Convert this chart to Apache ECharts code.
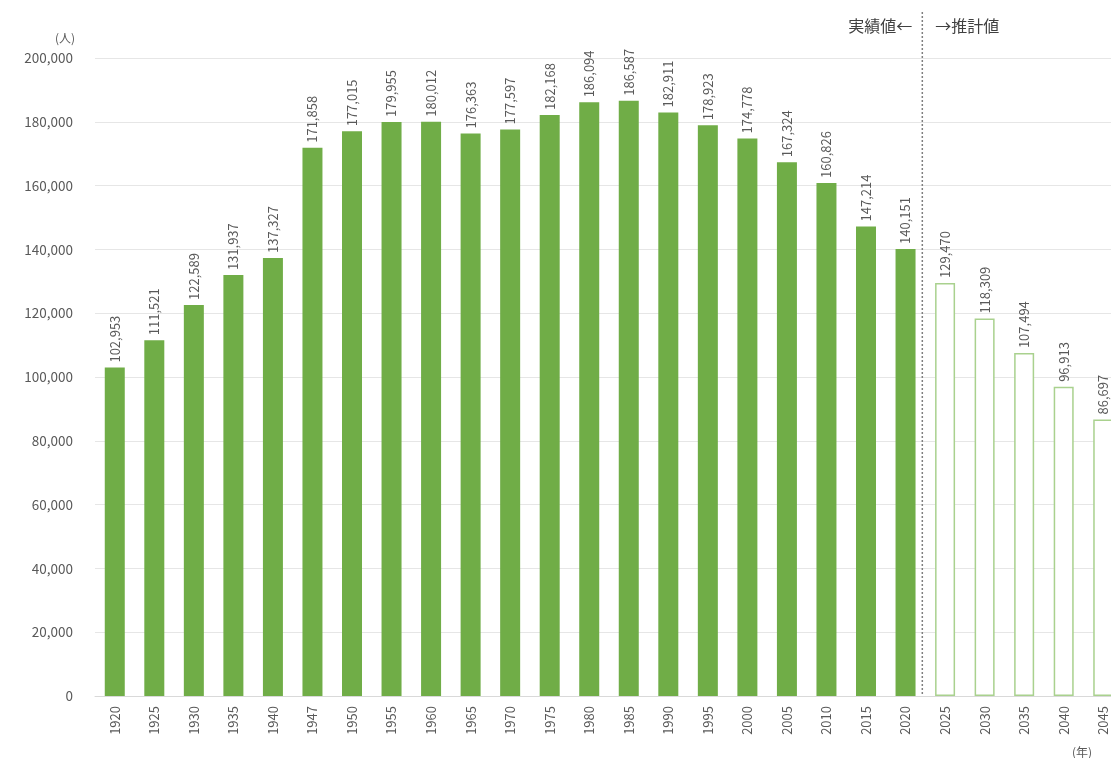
<!DOCTYPE html>
<html><head><meta charset="utf-8">
<script src="https://cdn.jsdelivr.net/npm/echarts@6/dist/echarts.min.js"></script>
<style>html,body{margin:0;padding:0;background:#fff;overflow:hidden;width:1111px;height:758px}#c{width:1123px;height:758px}</style>
</head><body><div id="c"></div>
<script>
const categories = ['1920','1925','1930','1935','1940','1947','1950','1955','1960','1965','1970','1975','1980','1985','1990','1995','2000','2005','2010','2015','2020','2025','2030','2035','2040','2045'];
const actualValues = [102953,111521,122589,131937,137327,171858,177015,179955,180012,176363,177597,182168,186094,186587,182911,178923,174778,167324,160826,147214,140151];
const forecastValues = [129470,118309,107494,96913,86697];
const yTicks = {min:0, max:200000, interval:20000};

const FONT = '"Noto Sans CJK JP", "Noto Sans", sans-serif';
const actualData = categories.map((c,i)=> i < actualValues.length ? actualValues[i] : '-');
const forecastData = categories.map((c,i)=> i >= actualValues.length ? forecastValues[i-actualValues.length] : '-');
const labelCfg = {show:true, position:'top', rotate:90, align:'left', verticalAlign:'middle', distance:5,
  color:'#595959', fontSize:13, fontFamily:FONT,
  formatter:p=>Number(p.value).toLocaleString('en-US')};

const chart = echarts.init(document.getElementById('c'));
chart.setOption({
  animation:false,
  grid:{left:95, right:0, top:58, bottom:62, containLabel:false},
  xAxis:{type:'category', data:categories,
    axisLine:{lineStyle:{color:'#d9d9d9'}}, axisTick:{show:false},
    axisLabel:{rotate:90, color:'#595959', fontSize:13, fontFamily:FONT, margin:10, interval:0}},
  yAxis:{type:'value', min:yTicks.min, max:yTicks.max, interval:yTicks.interval,
    axisLine:{show:false}, axisTick:{show:false},
    splitLine:{lineStyle:{color:'#e6e6e6'}},
    axisLabel:{color:'#595959', fontSize:13.5, fontFamily:FONT, margin:22,
      formatter:v=>v.toLocaleString('en-US')}},
  series:[
    {type:'bar', data:actualData, barWidth:20, barGap:'-100%',
      itemStyle:{color:'#70ad47'}, label:labelCfg},
    {type:'bar', data:forecastData, barWidth:20, barGap:'-100%',
      itemStyle:{color:'#ffffff', borderColor:'#a9d18e', borderWidth:1.5}, label:labelCfg}
  ]
});

function drawGraphics(){
  const x2020 = chart.convertToPixel({xAxisIndex:0}, '2020');
  const x2025 = chart.convertToPixel({xAxisIndex:0}, '2025');
  const xm = (x2020 + x2025)/2 - 3;
  const y0 = chart.convertToPixel({yAxisIndex:0}, 0);
  chart.setOption({graphic:[
    {type:'line', shape:{x1:xm, y1:12, x2:xm, y2:y0}, style:{stroke:'#7f7f7f', lineWidth:1.5, lineDash:[2,2]}, z:10},
    {type:'text', x:xm-10, y:26, style:{text:'実績値←', fill:'#404040', font:'16px '+FONT, textAlign:'right', textVerticalAlign:'middle'}},
    {type:'text', x:xm+13, y:26, style:{text:'→推計値', fill:'#404040', font:'16px '+FONT, textAlign:'left', textVerticalAlign:'middle'}},
    {type:'text', x:65, y:38, style:{text:'(人)', fill:'#595959', font:'12px '+FONT, textAlign:'center', textVerticalAlign:'middle'}},
    {type:'text', x:1082, y:752, style:{text:'(年)', fill:'#595959', font:'12px '+FONT, textAlign:'center', textVerticalAlign:'middle'}}
  ]});
}
drawGraphics();
</script></body></html>
